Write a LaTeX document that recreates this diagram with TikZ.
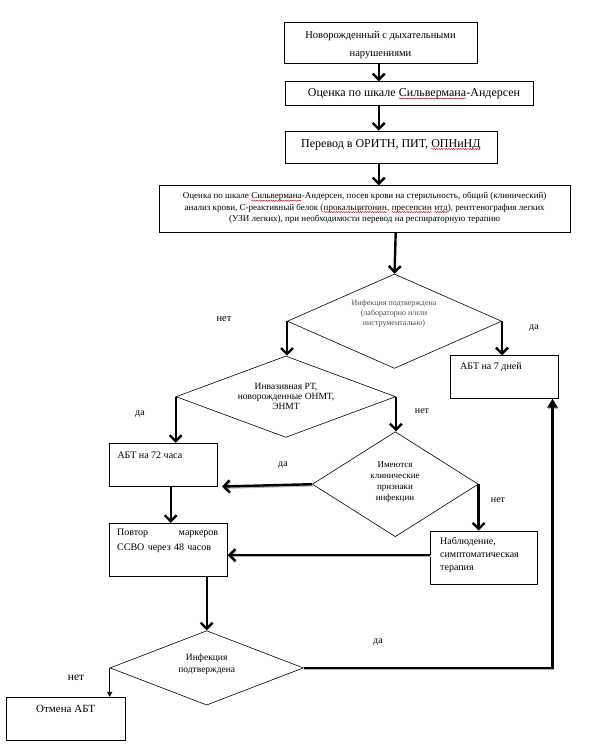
\documentclass[tikz,border=0pt]{standalone}
\usepackage{fontspec}
\setmainfont{Liberation Serif}
\usetikzlibrary{arrows.meta,shapes.geometric,decorations.pathmorphing}
\newcommand\spl[1]{\tikz[baseline=(w.base)]{\node[inner sep=0pt,outer sep=0pt](w){#1};\draw[red!85!black,line width=0.45pt,decorate,decoration={snake,amplitude=0.55pt,segment length=2.4pt}] ([yshift=-1.8pt]w.base west) -- ([yshift=-1.8pt]w.base east);}}
\begin{document}
\begin{tikzpicture}[x=1pt,y=-1pt,
  box/.style={draw,line width=0.8pt,inner sep=0pt},
  dia/.style={shape=diamond,draw,line width=0.6pt,inner sep=0pt},
  txt/.style={inner sep=0pt,align=center},
  thk/.style={line width=2.4pt,-{Straight Barb[length=6pt,width=12pt]}},
  shd/.style={preaction={draw=black!30,line width=2.4pt,transform canvas={shift={(0.6pt,-1.1pt)}}}},
  thkt/.style={line width=2.4pt,-{Triangle[length=9pt,width=10pt]}},
  thin/.style={line width=0.8pt,-{Triangle[length=5pt,width=5pt]}},
  lbl/.style={inner sep=0pt,font=\fontsize{10}{12}\selectfont}
]
\useasboundingbox (0,0) rectangle (599,754);
% boxes
\node[box,minimum width=193pt,minimum height=41pt] (b1) at (380.5,42.5) {};
\node[box,minimum width=248pt,minimum height=23.6pt] (b2) at (409.3,93.5) {};
\node[box,minimum width=212.7pt,minimum height=32.3pt] (b3) at (391.4,147.2) {};
\node[box,minimum width=410.7pt,minimum height=46.6pt] (b4) at (364.7,209) {};
\node[box,minimum width=107.6pt,minimum height=42.6pt] (b5) at (504.5,377) {};
\node[box,minimum width=108.3pt,minimum height=43.4pt] (b6) at (163.2,465) {};
\node[box,minimum width=106.6pt,minimum height=53pt] (b7) at (484,557.5) {};
\node[box,minimum width=118.3pt,minimum height=53.4pt] (b8) at (168.2,550) {};
\node[box,minimum width=118.3pt,minimum height=43.4pt] (b9) at (65.8,719) {};
% diamonds
\node[dia,minimum width=214.4pt,minimum height=94.4pt] (d1) at (394.5,321.2) {};
\node[dia,minimum width=219.6pt,minimum height=81.4pt] (d2) at (285.8,396.7) {};
\node[dia,minimum width=166pt,minimum height=105pt] (d3) at (395.3,484.2) {};
\node[dia,minimum width=193.4pt,minimum height=74.4pt] (d4) at (206.7,667.9) {};
% texts
\node[txt,font=\fontsize{10.5}{18}\selectfont] (t1) at (380.5,45) {Новорожденный с дыхательными\\нарушениями};
\node[txt,font=\fontsize{12}{14}\selectfont] (t2) at (414,94) {Оценка по шкале \spl{Сильвермана}-Андерсен};
\node[txt,font=\fontsize{12}{14}\selectfont] (t3) at (391,144.5) {Перевод в ОРИТН, ПИТ, \spl{ОПНиНД}};
\node[txt,font=\fontsize{9}{11.3}\selectfont] (t4) at (364.7,208) {Оценка по шкале \spl{Сильвермана}-Андерсен, посев крови на стерильность, общий (клинический)\\анализ крови, С-реактивный белок (\spl{прокальцитонин}, \spl{пресепсин} \spl{итд}), рентгенография легких\\(УЗИ легких), при необходимости перевод на респираторную терапию};
\node[txt,text=black!70,font=\fontsize{8}{9.7}\selectfont] (td1) at (394,313.6) {Инфекция подтверждена\\(лабораторно и/или\\инструментально)};
\node[txt,font=\fontsize{9.5}{10.3}\selectfont] (td2) at (286,396.5) {Инвазивная РТ,\\новорожденные ОНМТ,\\ЭНМТ};
\node[txt,font=\fontsize{9}{11.3}\selectfont] (td3) at (395,482) {Имеются\\клинические\\признаки\\инфекции};
\node[txt,font=\fontsize{9.5}{12.4}\selectfont] (td4) at (206.7,664.5) {Инфекция\\подтверждена};
\node[txt,anchor=west,font=\fontsize{10}{12}\selectfont] (t5) at (460,366.7) {АБТ на 7 дней};
\node[txt,anchor=west,font=\fontsize{10}{12}\selectfont] (t6) at (117.3,455) {АБТ на 72 часа};
\node[txt,anchor=west,align=left,font=\fontsize{10}{13.3}\selectfont] (t7) at (440,555) {Наблюдение,\\симптоматическая\\терапия};
\node[txt,anchor=west,align=left,text width=101pt,font=\fontsize{10}{15}\selectfont] (t8) at (117,540.8) {Повтор\hfill маркеров\\ССВО через 48 часов};
\node[txt,font=\fontsize{11}{13}\selectfont] (t9) at (65.7,709.3) {Отмена АБТ};
% labels
\node[lbl,font=\fontsize{10.5}{12}\selectfont] (l1) at (224,319) {нет};
\node[lbl] (l2) at (534,328) {да};
\node[lbl] (l3) at (140,414) {да};
\node[lbl] (l4) at (422,411) {нет};
\node[lbl] (l5) at (283,465) {да};
\node[lbl] (l6) at (498,500) {нет};
\node[lbl] (l7) at (378,642) {да};
\node[lbl,font=\fontsize{11.5}{12}\selectfont] (l8) at (76,678) {нет};
% helper coordinates
\coordinate (a1) at (378.7,0);
\coordinate (a4) at (395.7,0);
\coordinate (a6) at (170.7,0);
\coordinate (h7) at (0,555);
\coordinate (c5) at (552.5,0);
\coordinate (e6) at (222,486.5);
% connectors
\draw[thk] (b1.south -| a1) -- (b2.north -| a1);
\draw[thk] (b2.south -| a1) -- (b3.north -| a1);
\draw[thk] (b3.south -| a1) -- (b4.north -| a1);
\draw[thk] (b4.south -| a4) -- (d1.north);
\draw[thk] (d1.west) -- (d1.west |- d2.north);
\draw[thk] (d1.east) -- (d1.east |- b5.north);
\draw[thk] (d2.west) -- (d2.west |- b6.north);
\draw[thk] (d2.east) -- (d2.east |- d3.north);
\draw[thk,shd] (d3.west) -- (e6);
\draw[thk] (d3.east) -- (d3.east |- b7.north);
\draw[thk] (b6.south -| a6) -- (b8.north -| a6);
\draw[thk,shd] (b7.west |- h7) -- (b8.east |- h7);
\draw[thk] (b8.south -| d4.north) -- (d4.north);
\draw[thin] (d4.west) -- (d4.west |- b9.north);
\draw[thkt,shd] (d4.east) -| (c5 |- b5.south);
\end{tikzpicture}
\end{document}
